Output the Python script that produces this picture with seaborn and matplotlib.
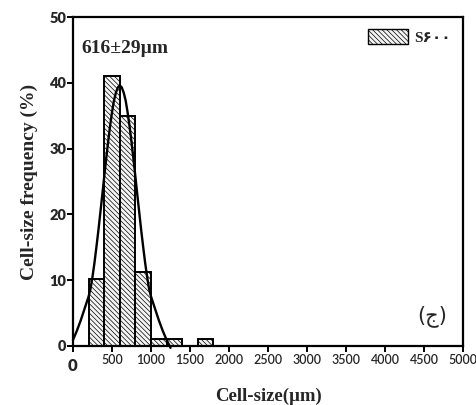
import numpy as np
import pandas as pd
import matplotlib
matplotlib.use("Agg")
import matplotlib.pyplot as plt
import seaborn as sns
from matplotlib.patches import Patch

# ---- data ----
bin_edges = [200, 400, 600, 800, 1000, 1200, 1400, 1600, 1800]
bin_freq = [10.2, 41.0, 35.0, 11.3, 1.0, 1.0, 0.0, 1.0]

curve_x = [0, 25, 50, 75, 100, 125, 150, 175, 200, 225, 250, 275, 300, 325, 350,
           375, 400, 425, 450, 475, 500, 525, 550, 575, 600,
           625, 650, 675, 700, 725, 750, 775, 800, 825, 850, 875, 900, 925, 950,
           975, 1000, 1025, 1050, 1075, 1100, 1125, 1150, 1175, 1200, 1225, 1250]
curve_y = [0.9, 1.6, 2.3, 3.1, 3.9, 4.8, 5.7, 6.6, 7.5, 8.7, 10.5, 12.6, 15.0, 17.5,
           20.2, 22.9, 25.7, 28.4, 31.0, 33.4, 35.5, 37.3, 38.5, 39.3, 39.6,
           39.3, 38.5, 37.3, 35.5, 33.4, 31.0, 28.4, 25.7, 22.9, 20.2, 17.5, 15.0,
           12.6, 10.5, 8.7, 7.5, 6.6, 5.7, 4.8, 3.9, 3.1, 2.3, 1.6, 0.9, 0.3, -0.3]

x_ticks = [0, 500, 1000, 1500, 2000, 2500, 3000, 3500, 4000, 4500, 5000]
y_ticks = [0, 10, 20, 30, 40, 50]

sns.set_style("white")
plt.rcParams['font.family'] = ['Liberation Serif', 'DejaVu Sans']
plt.rcParams['hatch.color'] = '#b0b0b0'
plt.rcParams['hatch.linewidth'] = 0.5

fig = plt.figure(figsize=(4.77, 4.05), dpi=100)
ax = fig.add_axes([0.153, 0.146, 0.818, 0.812])

HATCH = '\\' * 7

centers = [(a + b) / 2 for a, b in zip(bin_edges[:-1], bin_edges[1:])]
df = pd.DataFrame({"size": centers, "freq": bin_freq})
sns.histplot(data=df, x="size", weights="freq", bins=bin_edges, stat="count",
             color="#f0f0f0", edgecolor="black", linewidth=1.4, alpha=1, ax=ax)
for p in ax.patches:
    p.set_hatch(HATCH)
    p.set_facecolor('#f5f5f5')

cdf = pd.DataFrame({"x": curve_x, "y": curve_y})
sns.lineplot(data=cdf, x="x", y="y", color="black", linewidth=1.7, ax=ax)
for ln in ax.lines:
    ln.set_clip_on(False)

ax.set_xlim(0, 5000)
ax.set_ylim(0, 50)
ax.set_xticks(x_ticks)
ax.set_yticks(y_ticks)
ax.set_xticklabels([str(t) for t in x_ticks], family='Lato', fontsize=9, weight='semibold')
ax.set_yticklabels([str(t) for t in y_ticks], family='Lato', fontsize=10.5, weight='heavy')
xl = ax.get_xticklabels()
xl[0].set_fontsize(12)
xl[0].set_fontweight('heavy')
xl[0].set_y(-0.012)

for s in ax.spines.values():
    s.set_visible(True)
    s.set_color('black')
    s.set_linewidth(1.6)

ax.tick_params(axis='both', direction='out', length=4, width=1.4, color='black',
               bottom=True, left=True, pad=2)
ax.tick_params(axis='y', pad=1)

ax.set_xlabel("Cell-size(µm)", fontsize=13.5, weight='bold', labelpad=10)
ax.set_ylabel("Cell-size frequency (%)", fontsize=14, weight='bold', labelpad=8)

ax.text(0.022, 0.905, "616±29µm", transform=ax.transAxes, fontsize=14, weight='bold',
        ha='left', va='center')
ax.text(0.92, 0.091, "(ج)", transform=ax.transAxes, fontsize=15,
        ha='center', va='center', family=['DejaVu Sans'])

handle = Patch(facecolor='#f5f5f5', edgecolor='black', hatch=HATCH, linewidth=1.0)
ax.legend([handle], ["S۶۰۰"], loc='upper right', frameon=False,
          prop={'family': ['Liberation Serif', 'DejaVu Sans'], 'size': 11, 'weight': 'bold'},
          handlelength=2.6, handleheight=1.1, borderaxespad=0.4, handletextpad=0.4)

fig.savefig("out.png", dpi=100)
